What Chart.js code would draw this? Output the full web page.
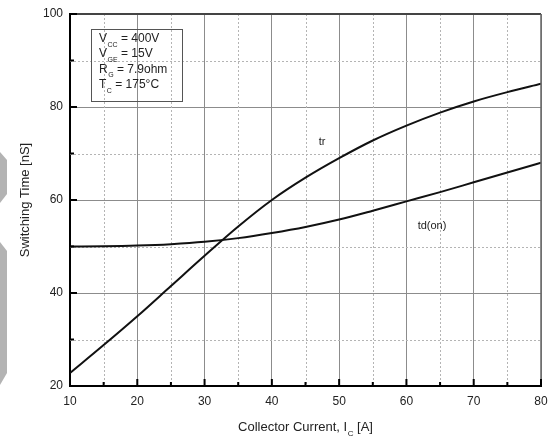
<!DOCTYPE html>
<html>
<head>
<meta charset="utf-8">
<script src="https://cdn.jsdelivr.net/npm/chart.js@4/dist/chart.umd.min.js"></script>
<style>
  body { margin: 0; background: #fff; }
  #wrap { position: relative; width: 551px; height: 440px; }
</style>
</head>
<body>
<div id="wrap"><canvas id="swChart" width="551" height="440"></canvas></div>
<script>
const currents = [10, 15, 20, 25, 30, 35, 40, 45, 50, 55, 60, 65, 70, 75, 80];
const trValues = [22.8, 28.8, 35, 41.5, 48, 54.3, 60, 64.8, 69, 72.8, 76, 78.8, 81.2, 83.2, 85];
const tdOnValues = [50, 50.05, 50.2, 50.5, 51, 51.8, 52.9, 54.2, 55.8, 57.7, 59.7, 61.7, 63.8, 65.9, 68];
const xMinor = [15, 25, 35, 45, 55, 65, 75];
const yMinor = [30, 50, 70, 90];
const conditions = [
  ['V', 'CC', ' = 400V'],
  ['V', 'GE', ' = 15V'],
  ['R', 'G', ' = 7.9ohm'],
  ['T', 'C', ' = 175\u00b0C']
];

const FONT = '"Liberation Sans", Arial, sans-serif';
const ink = '#222';

function pts(vals) {
  return currents.map((c, i) => ({ x: c, y: vals[i] }));
}

// text with a lowered subscript part, returns end x
function subText(ctx, x, y, main, sub, rest, size) {
  ctx.font = size + 'px ' + FONT;
  ctx.fillText(main, x, y);
  x += ctx.measureText(main).width;
  ctx.font = Math.round(size * 0.62) + 'px ' + FONT;
  ctx.fillText(sub, x + 0.5, y + size * 0.4);
  x += ctx.measureText(sub).width + 0.5;
  ctx.font = size + 'px ' + FONT;
  ctx.fillText(rest, x, y);
  return x + ctx.measureText(rest).width;
}

function subWidth(ctx, main, sub, rest, size) {
  ctx.font = size + 'px ' + FONT;
  let w = ctx.measureText(main).width + ctx.measureText(rest).width;
  ctx.font = Math.round(size * 0.62) + 'px ' + FONT;
  return w + ctx.measureText(sub).width + 0.5;
}

const minorGrid = {
  id: 'minorGrid',
  beforeDatasetsDraw(chart) {
    const { ctx, chartArea: a, scales: { x, y } } = chart;
    ctx.save();
    ctx.strokeStyle = '#b4b4b4';
    ctx.lineWidth = 1;
    ctx.setLineDash([2, 2]);
    ctx.beginPath();
    xMinor.forEach(v => {
      const px = Math.round(x.getPixelForValue(v)) + 0.5;
      ctx.moveTo(px, a.top); ctx.lineTo(px, a.bottom);
    });
    yMinor.forEach(v => {
      const py = Math.round(y.getPixelForValue(v)) + 0.5;
      ctx.moveTo(a.left, py); ctx.lineTo(a.right, py);
    });
    ctx.stroke();
    ctx.restore();
  }
};

const decorations = {
  id: 'decorations',
  afterDraw(chart) {
    const { ctx, chartArea: a, scales: { x, y } } = chart;
    ctx.save();

    // frame top/right
    ctx.strokeStyle = '#444';
    ctx.lineWidth = 2;
    ctx.beginPath();
    ctx.moveTo(a.left, a.top); ctx.lineTo(a.right, a.top);
    ctx.stroke();
    ctx.strokeStyle = '#666';
    ctx.lineWidth = 1.5;
    ctx.beginPath();
    ctx.moveTo(a.right, a.top); ctx.lineTo(a.right, a.bottom);
    ctx.stroke();

    // inward tick marks
    ctx.strokeStyle = '#000';
    ctx.lineWidth = 2;
    ctx.beginPath();
    for (let v = 10; v <= 80; v += 5) {
      const px = x.getPixelForValue(v);
      const len = v % 10 === 0 ? 7 : 4;
      ctx.moveTo(px, a.bottom); ctx.lineTo(px, a.bottom - len);
    }
    for (let v = 20; v <= 100; v += 10) {
      const py = y.getPixelForValue(v);
      const len = v % 20 === 0 ? 7 : 4;
      ctx.moveTo(a.left, py); ctx.lineTo(a.left + len, py);
    }
    ctx.stroke();

    // conditions box
    ctx.strokeStyle = '#555';
    ctx.lineWidth = 1;
    ctx.strokeRect(91.5, 29.5, 91, 72);
    ctx.fillStyle = ink;
    ctx.textBaseline = 'alphabetic';
    ctx.textAlign = 'left';
    conditions.forEach((c, i) => {
      subText(ctx, 99, 42 + i * 15.3, c[0], c[1], c[2], 12);
    });

    // curve labels
    ctx.font = '11px ' + FONT;
    ctx.textAlign = 'center';
    ctx.textBaseline = 'middle';
    ctx.fillText('tr', 322, 142);
    ctx.fillText('td(on)', 432, 226);

    // axis titles
    const size = 13;
    ctx.textAlign = 'left';
    ctx.textBaseline = 'alphabetic';
    const w = subWidth(ctx, 'Collector Current, I', 'C', ' [A]', size);
    subText(ctx, (a.left + a.right) / 2 - w / 2, 431, 'Collector Current, I', 'C', ' [A]', size);

    ctx.save();
    ctx.translate(29, (a.top + a.bottom) / 2);
    ctx.rotate(-Math.PI / 2);
    ctx.font = size + 'px ' + FONT;
    ctx.textAlign = 'center';
    ctx.fillText('Switching Time [nS]', 0, 0);
    ctx.restore();

    // grey edge strip
    ctx.fillStyle = '#b3b3b3';
    ctx.beginPath();
    ctx.moveTo(0, 152); ctx.lineTo(7, 160); ctx.lineTo(7, 194); ctx.lineTo(0, 203);
    ctx.closePath();
    ctx.fill();
    ctx.beginPath();
    ctx.moveTo(0, 242); ctx.lineTo(7, 251); ctx.lineTo(7, 373); ctx.lineTo(0, 385);
    ctx.closePath();
    ctx.fill();

    ctx.restore();
  }
};

const ctx = document.getElementById('swChart').getContext('2d');

new Chart(ctx, {
  type: 'line',
  data: {
    datasets: [
      {
        label: 'tr',
        data: pts(trValues),
        borderColor: '#111',
        borderWidth: 2,
        pointRadius: 0,
        cubicInterpolationMode: 'monotone',
        fill: false
      },
      {
        label: 'td(on)',
        data: pts(tdOnValues),
        borderColor: '#111',
        borderWidth: 2,
        pointRadius: 0,
        cubicInterpolationMode: 'monotone',
        fill: false
      }
    ]
  },
  options: {
    responsive: false,
    animation: false,
    layout: { padding: { top: 14, right: 10, left: 0, bottom: 0 } },
    plugins: {
      legend: { display: false },
      tooltip: { enabled: false }
    },
    scales: {
      x: {
        type: 'linear',
        min: 10,
        max: 80,
        afterFit: s => { s.height = 54; s.paddingLeft = 0; s.paddingRight = 0; },
        ticks: { stepSize: 10, color: ink, padding: 8, font: { family: FONT, size: 12 } },
        grid: { color: '#8c8c8c', lineWidth: 1, drawTicks: false },
        border: { color: '#000', width: 2 }
      },
      y: {
        min: 20,
        max: 100,
        afterFit: s => { s.width = 70; s.paddingTop = 0; s.paddingBottom = 0; },
        ticks: { stepSize: 20, color: ink, padding: 7, font: { family: FONT, size: 12 } },
        grid: { color: '#8c8c8c', lineWidth: 1, drawTicks: false },
        border: { color: '#000', width: 2 }
      }
    }
  },
  plugins: [minorGrid, decorations]
});
</script>
</body>
</html>
